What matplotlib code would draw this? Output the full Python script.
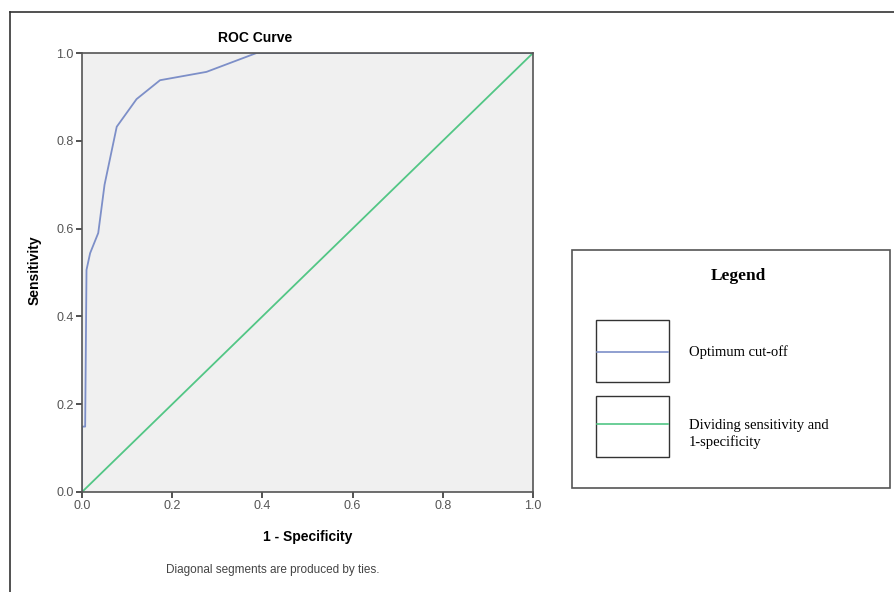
"""
plot.py - ROC curve with a separate boxed legend (SPSS style)
"""

import matplotlib
matplotlib.use("Agg")
import matplotlib.pyplot as plt
from matplotlib.patches import Rectangle
from matplotlib.lines import Line2D


# ──────────────────────────────────────────────
# Data
# ──────────────────────────────────────────────
fpr = [0.0, 0.0, 0.007, 0.010, 0.018, 0.036, 0.050, 0.077, 0.121, 0.173, 0.276, 0.387, 1.0]
tpr = [0.0, 0.149, 0.149, 0.506, 0.544, 0.590, 0.700, 0.832, 0.895, 0.938, 0.957, 1.0, 1.0]
diag = [0.0, 1.0]

ticks = [0.0, 0.2, 0.4, 0.6, 0.8, 1.0]
legend_labels = ["Optimum cut-off", "Dividing sensitivity and\n1-specificity"]

BLUE = "#7D8FC8"
GREEN = "#52C685"
W, H = 894, 592


def px(x, y):
    """pixel coords (top-left origin) -> figure fraction"""
    return x / W, 1 - y / H


fig = plt.figure(figsize=(W / 100, H / 100), dpi=100)
fig.patch.set_facecolor("white")

# outer frame (runs off the right and bottom edges)
fig.add_artist(Line2D([10 / W, 1.0], [1 - 12 / H, 1 - 12 / H], transform=fig.transFigure,
                      color="#333333", lw=1.2))
fig.add_artist(Line2D([10 / W, 10 / W], [0.0, 1 - 12 / H], transform=fig.transFigure,
                      color="#333333", lw=1.2))

# ──────────────────────────────────────────────
# ROC axes
# ──────────────────────────────────────────────
ax = fig.add_axes([82 / W, 1 - 492 / H, 451 / W, 439 / H])
ax.set_facecolor("#F0F0F0")
ax.plot(diag, diag, color=GREEN, lw=1.3)
ax.plot(fpr, tpr, color=BLUE, lw=1.3)
ax.set_xlim(0, 1)
ax.set_ylim(0, 1)
ax.set_xticks(ticks)
ax.set_yticks(ticks)
ax.set_xticklabels([f"{t:.1f}" for t in ticks])
ax.set_yticklabels([f"{t:.1f}" for t in ticks])
ax.tick_params(direction="out", length=4, width=1.2, color="#333333",
               labelsize=9, labelcolor="#555555", pad=2)
for lab in ax.get_xticklabels() + ax.get_yticklabels():
    lab.set_family("Liberation Sans")
for s in ax.spines.values():
    s.set_color("#555555")
    s.set_linewidth(1.2)

fig.text(*px(255, 38), "ROC Curve", ha="center", va="center",
         fontsize=10, fontweight="bold", family="Liberation Sans")
fig.text(*px(308, 537), "1 - Specificity", ha="center", va="center",
         fontsize=10, fontweight="bold", family="Liberation Sans")
fig.text(*px(35, 270), "Sensitivity", ha="center", va="center", rotation=90,
         fontsize=10, fontweight="bold", family="Liberation Sans")
fig.text(*px(273, 570), "Diagonal segments are produced by ties.", ha="center",
         va="center", fontsize=8.5, color="#444444", family="Liberation Sans")

# ──────────────────────────────────────────────
# Legend box
# ──────────────────────────────────────────────
x0, y0 = px(572, 488)
fig.add_artist(Rectangle((x0, y0), (890 - 572) / W, (488 - 250) / H,
                         transform=fig.transFigure, fill=False,
                         edgecolor="#555555", lw=1.2))
fig.text(*px(738, 276), "Legend", ha="center", va="center", fontsize=12.5,
         fontweight="bold", family="Liberation Serif")

boxes = [(320, 382, 352), (396, 457, 424)]
for (top, bot, ly), label, col in zip(boxes, legend_labels, [BLUE, GREEN]):
    bx, by = px(596, bot)
    fig.add_artist(Rectangle((bx, by), (669 - 596) / W, (bot - top) / H,
                             transform=fig.transFigure, fill=False,
                             edgecolor="#333333", lw=1.0))
    fig.add_artist(Line2D([597 / W, 668 / W], [1 - ly / H] * 2,
                          transform=fig.transFigure, color=col, lw=1.2))
    fig.text(*px(689, ly + (10 if "\n" in label else 0)), label, ha="left", va="center",
             fontsize=10.5, family="Liberation Serif", linespacing=1.25)

fig.savefig("out.png", dpi=100)
